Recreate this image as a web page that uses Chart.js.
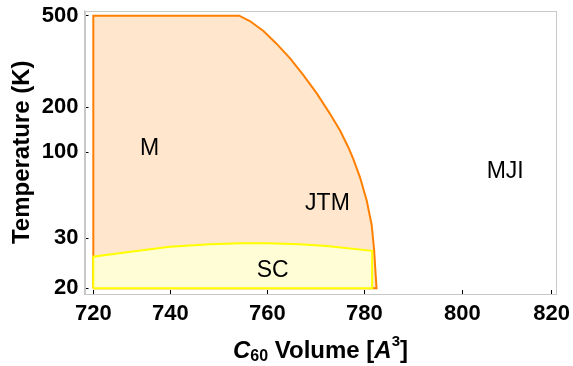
<!DOCTYPE html>
<html><head><meta charset="utf-8">
<script src="https://cdn.jsdelivr.net/npm/chart.js@4/dist/chart.umd.min.js"></script>
<style>html,body{margin:0;padding:0;background:#fff}#wrap{width:573px;height:366px;position:relative}</style>
</head><body><div id="wrap"><canvas id="c"></canvas></div>
<script>
// ---------- data ----------
const M_VOLUME = [720, 720, 754.2, 756.4, 759.2, 761.9, 764.7, 767.4, 770.2, 772.9, 775.0, 776.7, 777.7, 779.1, 780.5, 781.5, 782.0, 782.3, 782.5, 720];
const M_TEMP   = [20, 500, 500, 474, 429, 378, 326.5, 276.6, 229.8, 181.5, 139.7, 108.2, 91.4, 70.7, 50.8, 36.3, 27.4, 22.6, 20, 20];
const SC_VOLUME = [720, 720, 728.7, 739.9, 748.2, 754.4, 759.9, 766.7, 772.2, 781.6, 781.6, 720];
const SC_TEMP   = [20, 25.85, 26.8, 28.0, 28.6, 28.8, 28.8, 28.6, 28.2, 27.1, 20, 20];
const PHASE_NAMES  = ['M', 'JTM', 'MJI', 'SC'];
const PHASE_VOLUME = [734.6, 772.4, 809.6, 761.1];
const PHASE_TEMP   = [106, 49.0, 76.4, 23.1];
const X_TICKS = [720, 740, 760, 780, 800, 820];
const Y_TICKS = [20, 30, 100, 200, 500];

// ---------- axis calibration (value -> position along the axis) ----------
const FONT = "'Liberation Sans', Arial, sans-serif";
const SCALE_KNOTS = {
  x: {log: false, knots: [[717.6, 0], [720, 8.8], [740, 85.8], [760, 182.8], [780, 279.8], [800, 377.8], [820, 467.2], [821.1, 472]]},
  y: {log: true,  knots: [[19.1, 0], [20, 5.7], [30, 55.7], [100, 141.7], [200, 186.7], [500, 278.3], [525.8, 283.5]]}
};

class KnotScale extends Chart.LinearScale {
  static id = 'knot';
  static defaults = Chart.LinearScale.defaults;
  _cal() {
    const c = SCALE_KNOTS[this.axis];
    const f = c.log ? Math.log10 : (v => v);
    const total = c.knots[c.knots.length - 1][1];
    return {f, k: c.knots.map(p => [f(p[0]), p[1] / total])};
  }
  getPixelForValue(value) {
    if (value === null || value === undefined || isNaN(value)) return NaN;
    const {f, k} = this._cal();
    const x = f(value);
    let i = 0;
    while (i < k.length - 2 && x > k[i + 1][0]) i++;
    const d = k[i][1] + (x - k[i][0]) / (k[i + 1][0] - k[i][0]) * (k[i + 1][1] - k[i][1]);
    return this.getPixelForDecimal(d);
  }
  getValueForPixel(pixel) {
    const c = SCALE_KNOTS[this.axis];
    const {k} = this._cal();
    const d = this.getDecimalForPixel(pixel);
    let i = 0;
    while (i < k.length - 2 && d > k[i + 1][1]) i++;
    const x = k[i][0] + (d - k[i][1]) / (k[i + 1][1] - k[i][1]) * (k[i + 1][0] - k[i][0]);
    return c.log ? Math.pow(10, x) : x;
  }
}
Chart.register(KnotScale);

const pts = (xs, ys) => xs.map((v, i) => ({x: v, y: ys[i]}));

const framePlugin = {
  id: 'frame',
  beforeDatasetsDraw(chart) {
    const {ctx, chartArea: a} = chart;
    ctx.save();
    ctx.strokeStyle = '#c8c8c8';
    ctx.lineWidth = 1;
    ctx.strokeRect(Math.round(a.left) + 0.5, Math.round(a.top) + 0.5, Math.round(a.right - a.left) - 1, Math.round(a.bottom - a.top) - 1);
    ctx.restore();
  }
};

const textPlugin = {
  id: 'texts',
  afterDatasetsDraw(chart) {
    const {ctx, scales} = chart;
    ctx.save();
    ctx.fillStyle = '#000';
    ctx.font = '23px ' + FONT;
    ctx.textAlign = 'center';
    ctx.textBaseline = 'middle';
    PHASE_NAMES.forEach((n, i) => {
      ctx.fillText(n, scales.x.getPixelForValue(PHASE_VOLUME[i]), scales.y.getPixelForValue(PHASE_TEMP[i]));
    });
    ctx.restore();
  },
  afterDraw(chart) {
    const {ctx, chartArea: a} = chart;
    ctx.save();
    ctx.fillStyle = '#000';
    // y title
    ctx.save();
    ctx.translate(a.left - 56, (a.top + a.bottom) / 2);
    ctx.rotate(-Math.PI / 2);
    ctx.font = 'bold 24px ' + FONT;
    ctx.textAlign = 'center';
    ctx.textBaseline = 'alphabetic';
    ctx.fillText('Temperature (K)', 0, 0);
    ctx.restore();
    // x title with sub/superscript
    const parts = [
      {t: 'C', f: 'italic bold 24px ' + FONT, dy: 0},
      {t: '60', f: 'bold 16px ' + FONT, dy: 3},
      {t: ' Volume [', f: 'bold 24px ' + FONT, dy: 0},
      {t: 'A', f: 'italic bold 24px ' + FONT, dy: 0},
      {t: '3', f: 'bold 15px ' + FONT, dy: -12},
      {t: ']', f: 'bold 24px ' + FONT, dy: 0}
    ];
    let w = 0;
    parts.forEach(p => { ctx.font = p.f; p.w = ctx.measureText(p.t).width; w += p.w; });
    let x = (a.left + a.right) / 2 - w / 2;
    const base = a.bottom + 64;
    ctx.textAlign = 'left';
    ctx.textBaseline = 'alphabetic';
    parts.forEach(p => { ctx.font = p.f; ctx.fillText(p.t, x, base + p.dy); x += p.w; });
    ctx.restore();
  }
};

new Chart(document.getElementById('c'), {
  type: 'scatter',
  data: {
    datasets: [
      {label: 'SC', data: pts(SC_VOLUME, SC_TEMP), showLine: true, fill: 'shape',
       backgroundColor: '#FFFDD6', borderColor: '#FFFF00', borderWidth: 2, pointRadius: 0, tension: 0},
      {label: 'M', data: pts(M_VOLUME, M_TEMP), showLine: true, fill: 'shape',
       backgroundColor: '#FFE6CC', borderColor: '#FF8000', borderWidth: 2, pointRadius: 0, tension: 0}
    ]
  },
  options: {
    responsive: true, maintainAspectRatio: false, animation: false,
    layout: {padding: {left: 0, top: 10.5, right: 16.5, bottom: 0}},
    plugins: {legend: {display: false}, tooltip: {enabled: false}},
    scales: {
      x: {
        type: 'knot', min: 717.6, max: 821.1,
        afterBuildTicks: s => { s.ticks = X_TICKS.map(v => ({value: v})); },
        afterFit: s => { s.height = 72; s.paddingLeft = 0; s.paddingRight = 0; },
        ticks: {autoSkip: false, maxRotation: 0, minRotation: 0, padding: 11, color: '#000',
                font: {family: FONT, size: 22, weight: 'bold'}, callback: v => String(v)},
        grid: {drawOnChartArea: false, drawTicks: true, tickLength: -4, tickColor: '#000', tickWidth: 1},
        border: {display: true, color: '#c8c8c8', width: 1}
      },
      y: {
        type: 'knot', min: 19.1, max: 525.8,
        afterBuildTicks: s => { s.ticks = Y_TICKS.map(v => ({value: v})); },
        afterFit: s => { s.width = 84.5; s.paddingTop = 0; s.paddingBottom = 0; },
        ticks: {autoSkip: false, padding: 10, color: '#000',
                font: {family: FONT, size: 22, weight: 'bold'}, callback: v => String(v)},
        grid: {drawOnChartArea: false, drawTicks: true, tickLength: -4, tickColor: '#000', tickWidth: 1},
        border: {display: true, color: '#c8c8c8', width: 1}
      }
    }
  },
  plugins: [framePlugin, textPlugin]
});
</script>
</body></html>
